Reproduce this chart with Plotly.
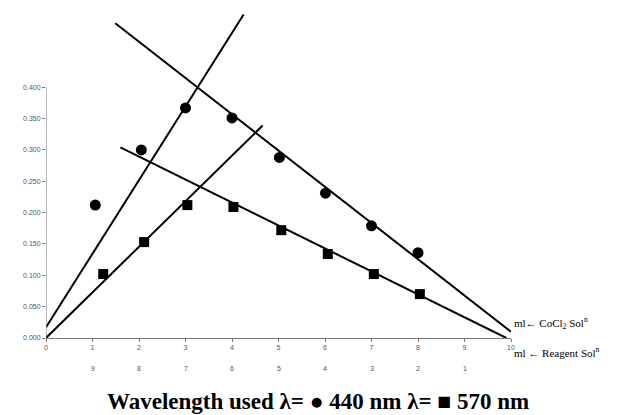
import plotly.graph_objects as go

# Absorbance data
x_440 = [1.06, 2.05, 3.0, 4.0, 5.02, 6.01, 7.0, 8.0]
abs_440 = [0.212, 0.300, 0.367, 0.351, 0.288, 0.231, 0.179, 0.136]
x_570 = [1.23, 2.11, 3.04, 4.03, 5.06, 6.06, 7.05, 8.04]
abs_570 = [0.102, 0.153, 0.212, 0.209, 0.172, 0.134, 0.102, 0.070]

# Trend lines (end points in data units)
line_a_x = [0.0, 4.25]
line_a_y = [0.017, 0.516]
line_b_x = [0.0, 4.66]
line_b_y = [0.0, 0.339]
line_c_x = [1.49, 10.0]
line_c_y = [0.502, 0.010]
line_d_x = [1.6, 9.9]
line_d_y = [0.304, 0.0]

# Axis ticks
x_ticks = list(range(0, 11))
x_tick_text = [str(v) for v in x_ticks]
reagent_pos = list(range(1, 10))
reagent_text = [str(10 - v) for v in reagent_pos]
y_ticks = [0.0, 0.05, 0.10, 0.15, 0.20, 0.25, 0.30, 0.35, 0.40]
y_tick_text = ["%.3f" % v for v in y_ticks]

fig = go.Figure()
for lx, ly in [(line_a_x, line_a_y), (line_b_x, line_b_y),
               (line_c_x, line_c_y), (line_d_x, line_d_y)]:
    fig.add_trace(go.Scatter(x=lx, y=ly, mode="lines",
                             line=dict(color="black", width=2),
                             hoverinfo="skip", showlegend=False, cliponaxis=False))

fig.add_trace(go.Scatter(x=x_440, y=abs_440, mode="markers",
                         marker=dict(symbol="circle", size=11, color="black"),
                         showlegend=False, cliponaxis=False))
fig.add_trace(go.Scatter(x=x_570, y=abs_570, mode="markers",
                         marker=dict(symbol="square", size=10, color="black"),
                         showlegend=False, cliponaxis=False))

tick_font = dict(family="Liberation Sans", size=7, color="#555555")

# The page body has an 8px margin, so the figure is sized 8px smaller
fig.update_layout(
    width=631, height=407,
    margin=dict(l=38, r=128, t=4, b=77),
    paper_bgcolor="white", plot_bgcolor="white",
    xaxis=dict(range=[0, 10], showgrid=False, zeroline=False,
               showline=True, linecolor="#777777", linewidth=1,
               ticks="outside", ticklen=3, tickcolor="#777777",
               tickvals=x_ticks, ticktext=x_tick_text, tickfont=tick_font),
    yaxis=dict(range=[0, 0.52], showgrid=False, zeroline=False,
               showline=False, ticks="outside", ticklen=3, tickcolor="#777777",
               tickvals=y_ticks, ticktext=y_tick_text, tickfont=tick_font),
)

# y-axis line only up to 0.400
fig.add_shape(type="line", xref="x", yref="y", x0=0, x1=0, y0=0, y1=0.4,
              line=dict(color="#777777", width=1))

# second row of x labels (Reagent)
for p, t in zip(reagent_pos, reagent_text):
    fig.add_annotation(x=p, y=0, xref="x", yref="y", text=t, showarrow=False,
                       yshift=-30, font=tick_font)

serif = "Liberation Serif"
fig.add_annotation(x=1.0, y=0.024, xref="paper", yref="y", xanchor="left",
                   xshift=1, text="ml\u2190 CoCl<sub>2</sub> Sol<sup>n</sup>",
                   showarrow=False, font=dict(family=serif, size=11, color="black"))
fig.add_annotation(x=1.0, y=0.0, xref="paper", yref="y", xanchor="left",
                   xshift=1, yshift=-14, text="ml \u2190 Reagent Sol<sup>n</sup>",
                   showarrow=False, font=dict(family=serif, size=11, color="black"))

fig.add_annotation(x=0.585, y=-0.196, xref="paper", yref="paper", xanchor="center",
                   yanchor="middle",
                   text="<b>Wavelength used \u03bb= \u25cf 440 nm \u03bb= \u25a0 570 nm</b>",
                   showarrow=False,
                   font=dict(family=serif, size=23, color="black"))

fig.write_html("out.html")
